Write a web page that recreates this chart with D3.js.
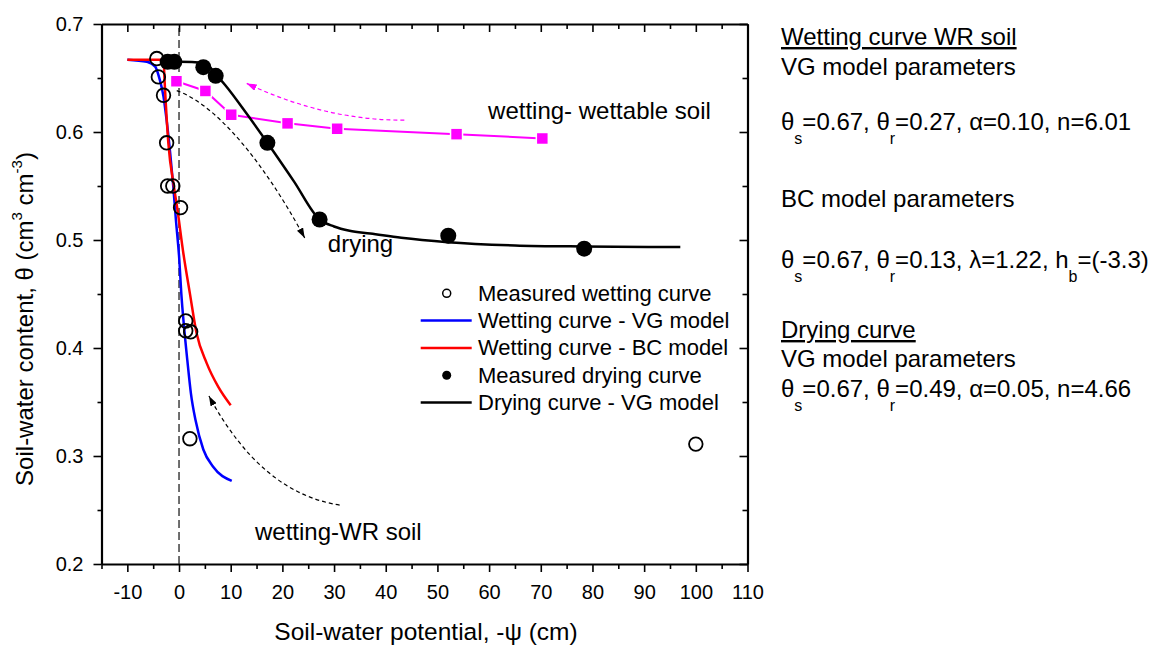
<!DOCTYPE html>
<html><head><meta charset="utf-8">
<script src="https://cdn.jsdelivr.net/npm/d3@7"></script>
<style>
body{margin:0;background:#fff;}
svg{display:block;font-family:"Liberation Sans",Arial,sans-serif;}
</style></head><body>
<svg id="chart" width="1156" height="646"></svg>
<script>
// ---------- tick data ----------
const xTickValues = [-10,0,10,20,30,40,50,60,70,80,90,100,110];
const xTickLabels = ["-10","0","10","20","30","40","50","60","70","80","90","100","110"];
const xMinorTicks = [-15,-5,5,15,25,35,45,55,65,75,85,95,105];
const yTickValues = [0.2,0.3,0.4,0.5,0.6,0.7];
const yTickLabels = ["0.2","0.3","0.4","0.5","0.6","0.7"];
const yMinorTicks = [0.25,0.35,0.45,0.55,0.65];

// ---------- series data ----------
const wetMeasX = [-4.3,-4.0,-3.0,-2.4,-2.2,-1.2,0.3,1.3,1.3,2.25,2.1,100];
const wetMeasY = [0.668,0.651,0.634,0.590,0.550,0.550,0.530,0.425,0.416,0.415,0.316,0.311];
const dryMeasX = [-2.2,-0.9,4.7,7.1,17.1,27.2,52.1,78.4];
const dryMeasY = [0.665,0.665,0.660,0.652,0.590,0.519,0.504,0.492];
const wettableX = [-0.5,5.1,10.1,21.0,30.6,53.7,70.3];
const wettableY = [0.647,0.638,0.616,0.608,0.603,0.598,0.594];
const vgWetX = [-10,-6.2,-4.6,-3.8,-3.0,-2.4,-1.7,-1.1,-0.6,0.06,0.44,0.97,1.6,2.3,3.2,4.7,6.6,10.2];
const vgWetY = [0.667,0.665,0.6605,0.6497,0.6327,0.611,0.580,0.549,0.5185,0.4815,0.4506,0.4197,0.3889,0.358,0.333,0.306,0.290,0.277];
const bcWetX = [-10,-3.0,-2.8,-2.07,-0.97,-0.33,0.83,2.1,3.4,5.35,7.6,10.0];
const bcWetY = [0.667,0.667,0.648,0.590,0.549,0.529,0.488,0.4506,0.4136,0.386,0.364,0.347];
const vgDryX = [-3,0,5,7,9,13,17.1,22.2,27.2,30,33,37,43,52,65,78,97];
const vgDryY = [0.665,0.665,0.664,0.654,0.643,0.6175,0.590,0.5545,0.519,0.5125,0.5085,0.506,0.502,0.498,0.495,0.494,0.4935];

// ---------- annotations (data coordinates) ----------
const arrowWettable = [[43.6,0.611],[28.4,0.6106],[13.1,0.645]];          // quadratic
const arrowDrying   = [[-0.44,0.6383],[8.88,0.6222],[18.53,0.5537],[24.32,0.5019]]; // cubic
const arrowWR       = [[31.08,0.2546],[15.93,0.2656],[5.79,0.3556]];        // quadratic
const labelTexts = ["wetting- wettable soil","drying","wetting-WR soil"];
const labelPos   = [[59.8,0.612],[28.8,0.4889],[14.7,0.2222]];

const legendLabels = ["Measured wetting curve","Wetting curve - VG model","Wetting curve - BC model","Measured drying curve","Drying curve - VG model"];

const svg = d3.select("#chart");
const x = d3.scaleLinear().domain([-15,110]).range([101.5,747.5]);
const y = d3.scaleLinear().domain([0.2,0.7]).range([564,24]);
const zip = (a,b)=>a.map((v,i)=>[v,b[i]]);

// defs: arrowheads
const defs = svg.append("defs");
function marker(id,color){
  defs.append("marker").attr("id",id).attr("viewBox","0 0 10 7")
    .attr("refX",10).attr("refY",3.5).attr("markerWidth",10).attr("markerHeight",7)
    .attr("markerUnits","userSpaceOnUse").attr("orient","auto")
    .append("path").attr("d","M0,0 L10,3.5 L0,7 Z").attr("fill",color).attr("stroke","none");
}
marker("ahK","#000"); marker("ahM","#ff00ff");

// axes
function styleAxis(g,w){
  g.select(".domain").attr("stroke","#000").attr("stroke-width",w);
  g.selectAll(".tick line").attr("stroke","#000").attr("stroke-width",1.6);
  g.selectAll(".tick text").attr("fill","#000").style("font-size","20px").style("font-family","'Liberation Sans',Arial,sans-serif");
}
const gB = svg.append("g").attr("transform","translate(0,564)")
  .call(d3.axisBottom(x).tickValues(xTickValues).tickSize(8).tickSizeOuter(0).tickPadding(13)
  .tickFormat((d,i)=>xTickLabels[i]));
styleAxis(gB,2.2);
const gBm = svg.append("g").attr("transform","translate(0,564)")
  .call(d3.axisBottom(x).tickValues(xMinorTicks).tickSize(5).tickFormat(""));
gBm.select(".domain").remove(); styleAxis(gBm,0);
const gT = svg.append("g").attr("transform","translate(0,24)")
  .call(d3.axisTop(x).tickValues(xTickValues).tickSize(-8).tickSizeOuter(0).tickFormat(""));
styleAxis(gT,2.2);
const gTm = svg.append("g").attr("transform","translate(0,24)")
  .call(d3.axisTop(x).tickValues(xMinorTicks).tickSize(-5).tickFormat(""));
gTm.select(".domain").remove(); styleAxis(gTm,0);
const gL = svg.append("g").attr("transform","translate(101.5,0)")
  .call(d3.axisLeft(y).tickValues(yTickValues).tickSize(8).tickSizeOuter(0).tickPadding(10)
  .tickFormat((d,i)=>yTickLabels[i]));
styleAxis(gL,2.2);
const gLm = svg.append("g").attr("transform","translate(101.5,0)")
  .call(d3.axisLeft(y).tickValues(yMinorTicks).tickSize(4).tickFormat(""));
gLm.select(".domain").remove(); styleAxis(gLm,0);
const gR = svg.append("g").attr("transform","translate(747.5,0)")
  .call(d3.axisRight(y).tickValues(yTickValues).tickSize(-8).tickSizeOuter(0).tickFormat(""));
styleAxis(gR,2.2);
const gRm = svg.append("g").attr("transform","translate(747.5,0)")
  .call(d3.axisRight(y).tickValues(yMinorTicks).tickSize(-5).tickFormat(""));
gRm.select(".domain").remove(); styleAxis(gRm,0);

// zero reference line
svg.append("line").attr("x1",x(0)).attr("x2",x(0)).attr("y1",y(0.2)).attr("y2",y(0.7))
  .attr("stroke","#222").attr("stroke-width",1.3).attr("stroke-dasharray","8,4");

// axis titles
svg.append("text").attr("x",426).attr("y",640).attr("text-anchor","middle")
  .style("font-size","24.5px").text("Soil-water potential, -ψ (cm)");
const yt = svg.append("text").attr("transform","translate(33,319) rotate(-90)")
  .attr("text-anchor","middle").style("font-size","24px");
yt.append("tspan").text("Soil-water content, θ (cm");
yt.append("tspan").attr("dy",-11).style("font-size","15px").text("3");
yt.append("tspan").attr("dy",11).text(" cm");
yt.append("tspan").attr("dy",-11).style("font-size","15px").text("-3");
yt.append("tspan").attr("dy",11).text(")");

// lines
const line = d3.line().x(d=>x(d[0])).y(d=>y(d[1]));
const smooth = d3.line().x(d=>x(d[0])).y(d=>y(d[1])).curve(d3.curveMonotoneX);
svg.append("path").attr("d",line(zip(wettableX,wettableY))).attr("fill","none")
  .attr("stroke","#ff00ff").attr("stroke-width",2);
svg.append("path").attr("d",smooth(zip(vgDryX,vgDryY))).attr("fill","none")
  .attr("stroke","#000").attr("stroke-width",2.5);
svg.append("path").attr("d",smooth(zip(vgWetX,vgWetY))).attr("fill","none")
  .attr("stroke","#0000ff").attr("stroke-width",2.5);
svg.append("path").attr("d",smooth(zip(bcWetX,bcWetY))).attr("fill","none")
  .attr("stroke","#ff0000").attr("stroke-width",2.5);

// arrows
function quad(pts){const p=d3.path();p.moveTo(x(pts[0][0]),y(pts[0][1]));
  p.quadraticCurveTo(x(pts[1][0]),y(pts[1][1]),x(pts[2][0]),y(pts[2][1]));return p.toString();}
function cubic(pts){const p=d3.path();p.moveTo(x(pts[0][0]),y(pts[0][1]));
  p.bezierCurveTo(x(pts[1][0]),y(pts[1][1]),x(pts[2][0]),y(pts[2][1]),x(pts[3][0]),y(pts[3][1]));return p.toString();}
svg.append("path").attr("d",quad(arrowWettable)).attr("fill","none").attr("stroke","#ff00ff")
  .attr("stroke-width",1.2).attr("stroke-dasharray","4,3").attr("marker-end","url(#ahM)");
svg.append("path").attr("d",cubic(arrowDrying)).attr("fill","none").attr("stroke","#000")
  .attr("stroke-width",1.2).attr("stroke-dasharray","4,3").attr("marker-end","url(#ahK)");
svg.append("path").attr("d",quad(arrowWR)).attr("fill","none").attr("stroke","#000")
  .attr("stroke-width",1.2).attr("stroke-dasharray","4,3").attr("marker-end","url(#ahK)");

// markers
svg.append("g").selectAll("rect").data(zip(wettableX,wettableY)).join("rect")
  .attr("x",d=>x(d[0])-6).attr("y",d=>y(d[1])-6).attr("width",12).attr("height",12)
  .attr("fill","#ff00ff").attr("stroke","#fff").attr("stroke-width",1.5);
svg.append("g").selectAll("circle").data(zip(wetMeasX,wetMeasY)).join("circle")
  .attr("cx",d=>x(d[0])).attr("cy",d=>y(d[1])).attr("r",6.8)
  .attr("fill","none").attr("stroke","#000").attr("stroke-width",1.8);
svg.append("g").selectAll("circle").data(zip(dryMeasX,dryMeasY)).join("circle")
  .attr("cx",d=>x(d[0])).attr("cy",d=>y(d[1])).attr("r",8)
  .attr("fill","#000");

// annotation labels
svg.append("g").selectAll("text").data(labelTexts).join("text")
  .attr("x",(d,i)=>x(labelPos[i][0])).attr("y",(d,i)=>y(labelPos[i][1]))
  .style("font-size","24px").text(d=>d);

// legend
const lg = svg.append("g").attr("transform","translate(0,293.3)");
legendLabels.forEach((t,i)=>{
  const cy = i*27.3;
  if(i===0) lg.append("circle").attr("cx",446.7).attr("cy",cy).attr("r",4).attr("fill","none").attr("stroke","#000").attr("stroke-width",1.5);
  if(i===3) lg.append("circle").attr("cx",446.7).attr("cy",cy).attr("r",4.5).attr("fill","#000");
  if(i===1||i===2||i===4) lg.append("line").attr("x1",420.7).attr("x2",471.7).attr("y1",cy).attr("y2",cy)
    .attr("stroke",["","#0000ff","#ff0000","","#000"][i]).attr("stroke-width",2.5);
  lg.append("text").attr("x",478).attr("y",cy+7.5).style("font-size","22px").text(t);
});

// right-hand parameter panel
const panel = [
  {y:45,  parts:[["Wetting curve WR soil"]], u:true},
  {y:75,  parts:[["VG model parameters"]]},
  {y:130, parts:[["θ"],["s","sub"],["=0.67, θ"],["r","sub"],["=0.27, α=0.10, n=6.01"]]},
  {y:207, parts:[["BC model parameters"]]},
  {y:268, parts:[["θ"],["s","sub"],["=0.67, θ"],["r","sub"],["=0.13, λ=1.22, h"],["b","sub"],["=(-3.3)"]]},
  {y:338, parts:[["Drying curve"]], u:true},
  {y:367, parts:[["VG model parameters"]]},
  {y:397, parts:[["θ"],["s","sub"],["=0.67, θ"],["r","sub"],["=0.49, α=0.05, n=4.66"]]}
];
panel.forEach(row=>{
  const t = svg.append("text").attr("x",781).attr("y",row.y).style("font-size","24px");
  if(row.u) t.style("text-decoration","underline");
  let shifted=false;
  row.parts.forEach(p=>{
    const ts = t.append("tspan").text(p[0]);
    if(p[1]==="sub"){ ts.attr("dy",14).style("font-size","16px"); shifted=true; }
    else if(shifted){ ts.attr("dy",-14); shifted=false; }
  });
});
</script>
</body></html>
